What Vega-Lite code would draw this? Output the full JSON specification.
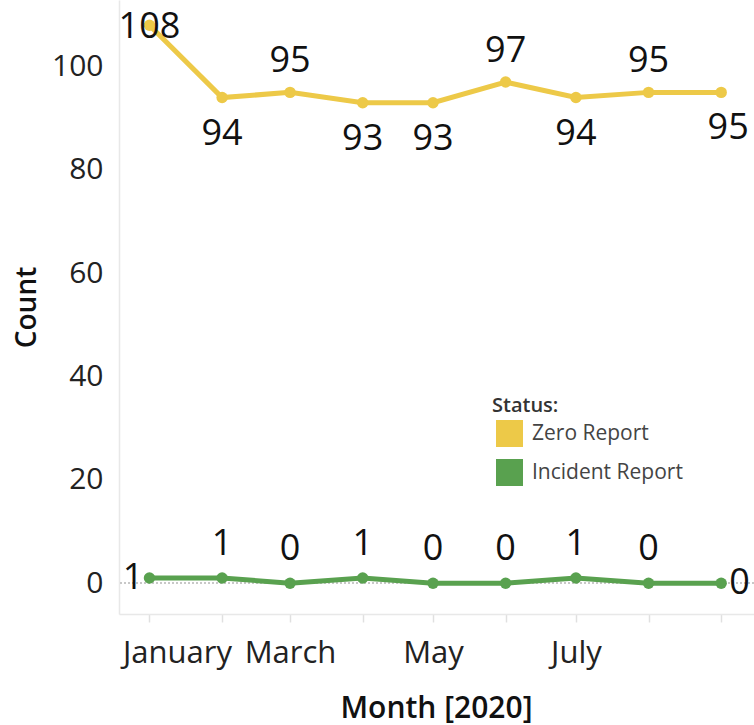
{
  "$schema": "https://vega.github.io/schema/vega-lite/v6.json",
  "width": 635,
  "height": 614,
  "autosize": {"type": "none"},
  "padding": {"left": 119, "top": 0, "right": 0, "bottom": 111},
  "background": "white",
  "config": {"font": "Open Sans", "view": {"stroke": null}},
  "data": {
    "values": [
      {"month": "2020-01-01", "status": "Zero Report", "count": 108},
      {"month": "2020-02-01", "status": "Zero Report", "count": 94},
      {"month": "2020-03-01", "status": "Zero Report", "count": 95},
      {"month": "2020-04-01", "status": "Zero Report", "count": 93},
      {"month": "2020-05-01", "status": "Zero Report", "count": 93},
      {"month": "2020-06-01", "status": "Zero Report", "count": 97},
      {"month": "2020-07-01", "status": "Zero Report", "count": 94},
      {"month": "2020-08-01", "status": "Zero Report", "count": 95},
      {"month": "2020-09-01", "status": "Zero Report", "count": 95},
      {"month": "2020-01-01", "status": "Incident Report", "count": 1},
      {"month": "2020-02-01", "status": "Incident Report", "count": 1},
      {"month": "2020-03-01", "status": "Incident Report", "count": 0},
      {"month": "2020-04-01", "status": "Incident Report", "count": 1},
      {"month": "2020-05-01", "status": "Incident Report", "count": 0},
      {"month": "2020-06-01", "status": "Incident Report", "count": 0},
      {"month": "2020-07-01", "status": "Incident Report", "count": 1},
      {"month": "2020-08-01", "status": "Incident Report", "count": 0},
      {"month": "2020-09-01", "status": "Incident Report", "count": 0}
    ]
  },
  "layer": [
    {
      "mark": {"type": "rule", "color": "#c8c8c8", "strokeWidth": 1.5, "strokeDash": [2, 2]},
      "encoding": {"y": {"datum": 0, "type": "quantitative"}}
    },
    {
      "encoding": {
        "x": {
          "field": "month",
          "type": "temporal",
          "scale": {
            "type": "utc",
            "domain": [
              {"year": 2019, "month": 12, "date": 19, "utc": true},
              {"year": 2020, "month": 9, "date": 15, "utc": true}
            ]
          },
          "axis": {
            "title": "Month [2020]",
            "titleFontSize": 30,
            "titleFontWeight": 600,
            "titleColor": "#111",
            "titleX": 317,
            "titleY": 103,
            "titleBaseline": "alphabetic",
            "values": [
              {"year": 2020, "month": 1, "date": 1, "utc": true},
              {"year": 2020, "month": 2, "date": 1, "utc": true},
              {"year": 2020, "month": 3, "date": 1, "utc": true},
              {"year": 2020, "month": 4, "date": 1, "utc": true},
              {"year": 2020, "month": 5, "date": 1, "utc": true},
              {"year": 2020, "month": 6, "date": 1, "utc": true},
              {"year": 2020, "month": 7, "date": 1, "utc": true},
              {"year": 2020, "month": 8, "date": 1, "utc": true},
              {"year": 2020, "month": 9, "date": 1, "utc": true}
            ],
            "labelExpr": "(utcmonth(datum.value) % 2 == 0 && utcmonth(datum.value) < 7) ? utcFormat(datum.value, '%B') : ''",
            "labelFontSize": 31,
            "labelColor": "#222",
            "labelPadding": 16,
            "labelFlush": 40,
            "labelFlushOffset": 27,
            "labelOverlap": false,
            "labelBound": false,
            "tickSize": 8,
            "tickColor": "#e0e0e0",
            "tickWidth": 1.5,
            "domainColor": "#e8e8e8",
            "domainWidth": 1.5,
            "grid": false
          }
        },
        "y": {
          "field": "count",
          "type": "quantitative",
          "scale": {"domain": [-5.96, 112.88], "nice": false, "zero": false},
          "axis": {
            "title": "Count",
            "titleFontSize": 28,
            "titleFontWeight": 600,
            "titleColor": "#111",
            "titleAngle": -90,
            "titleX": -92,
            "titleY": 307,
            "titleBaseline": "middle",
            "titleAlign": "center",
            "values": [0, 20, 40, 60, 80, 100],
            "labelFontSize": 30,
            "labelColor": "#222",
            "labelPadding": 16,
            "ticks": false,
            "domainColor": "#e8e8e8",
            "domainWidth": 1.5,
            "gridColor": "#eeeeee",
            "gridWidth": 1.5
          }
        },
        "color": {
          "field": "status",
          "type": "nominal",
          "scale": {"domain": ["Zero Report", "Incident Report"], "range": ["#EDC948", "#59A14F"]},
          "legend": {
            "orient": "none",
            "legendX": 373,
            "legendY": 396,
            "title": "Status:",
            "titleFontSize": 20,
            "titleFontWeight": 600,
            "titleColor": "#333",
            "titlePadding": 4,
            "labelFontSize": 21,
            "labelColor": "#444",
            "symbolType": "square",
            "symbolSize": 729,
            "symbolStrokeWidth": 0,
            "symbolOpacity": 1,
            "symbolOffset": 4,
            "labelOffset": 9,
            "rowPadding": 12,
            "padding": 0
          }
        }
      },
      "layer": [
        {"mark": {"type": "line", "strokeWidth": 5}},
        {"mark": {"type": "point", "filled": true, "size": 130, "opacity": 1}},
        {
          "transform": [{"filter": "datum.status === 'Zero Report' && utcmonth(toDate(datum.month)) === 0"}],
          "mark": {"type": "text", "fontSize": 36, "baseline": "middle", "align": "center", "dy": 2},
          "encoding": {"text": {"field": "count", "type": "quantitative"}, "color": {"value": "#111"}}
        },
        {
          "transform": [{"filter": "datum.status === 'Zero Report' && indexof([1,3,4,6], utcmonth(toDate(datum.month))) >= 0"}],
          "mark": {"type": "text", "fontSize": 36, "baseline": "middle", "align": "center", "dy": 36},
          "encoding": {"text": {"field": "count", "type": "quantitative"}, "color": {"value": "#111"}}
        },
        {
          "transform": [{"filter": "datum.status === 'Zero Report' && indexof([2,5,7], utcmonth(toDate(datum.month))) >= 0"}],
          "mark": {"type": "text", "fontSize": 36, "baseline": "middle", "align": "center", "dy": -31},
          "encoding": {"text": {"field": "count", "type": "quantitative"}, "color": {"value": "#111"}}
        },
        {
          "transform": [{"filter": "datum.status === 'Zero Report' && utcmonth(toDate(datum.month)) === 8"}],
          "mark": {"type": "text", "fontSize": 36, "baseline": "middle", "align": "center", "dy": 36, "dx": 7},
          "encoding": {"text": {"field": "count", "type": "quantitative"}, "color": {"value": "#111"}}
        },
        {
          "transform": [{"filter": "datum.status === 'Incident Report' && utcmonth(toDate(datum.month)) === 0"}],
          "mark": {"type": "text", "fontSize": 36, "baseline": "middle", "align": "right", "dx": -6},
          "encoding": {"text": {"field": "count", "type": "quantitative"}, "color": {"value": "#111"}}
        },
        {
          "transform": [{"filter": "datum.status === 'Incident Report' && utcmonth(toDate(datum.month)) > 0 && utcmonth(toDate(datum.month)) < 8"}],
          "mark": {"type": "text", "fontSize": 36, "baseline": "middle", "align": "center", "dy": -34},
          "encoding": {"text": {"field": "count", "type": "quantitative"}, "color": {"value": "#111"}}
        },
        {
          "transform": [{"filter": "datum.status === 'Incident Report' && utcmonth(toDate(datum.month)) === 8"}],
          "mark": {"type": "text", "fontSize": 36, "baseline": "middle", "align": "left", "dx": 8},
          "encoding": {"text": {"field": "count", "type": "quantitative"}, "color": {"value": "#111"}}
        }
      ]
    }
  ]
}
